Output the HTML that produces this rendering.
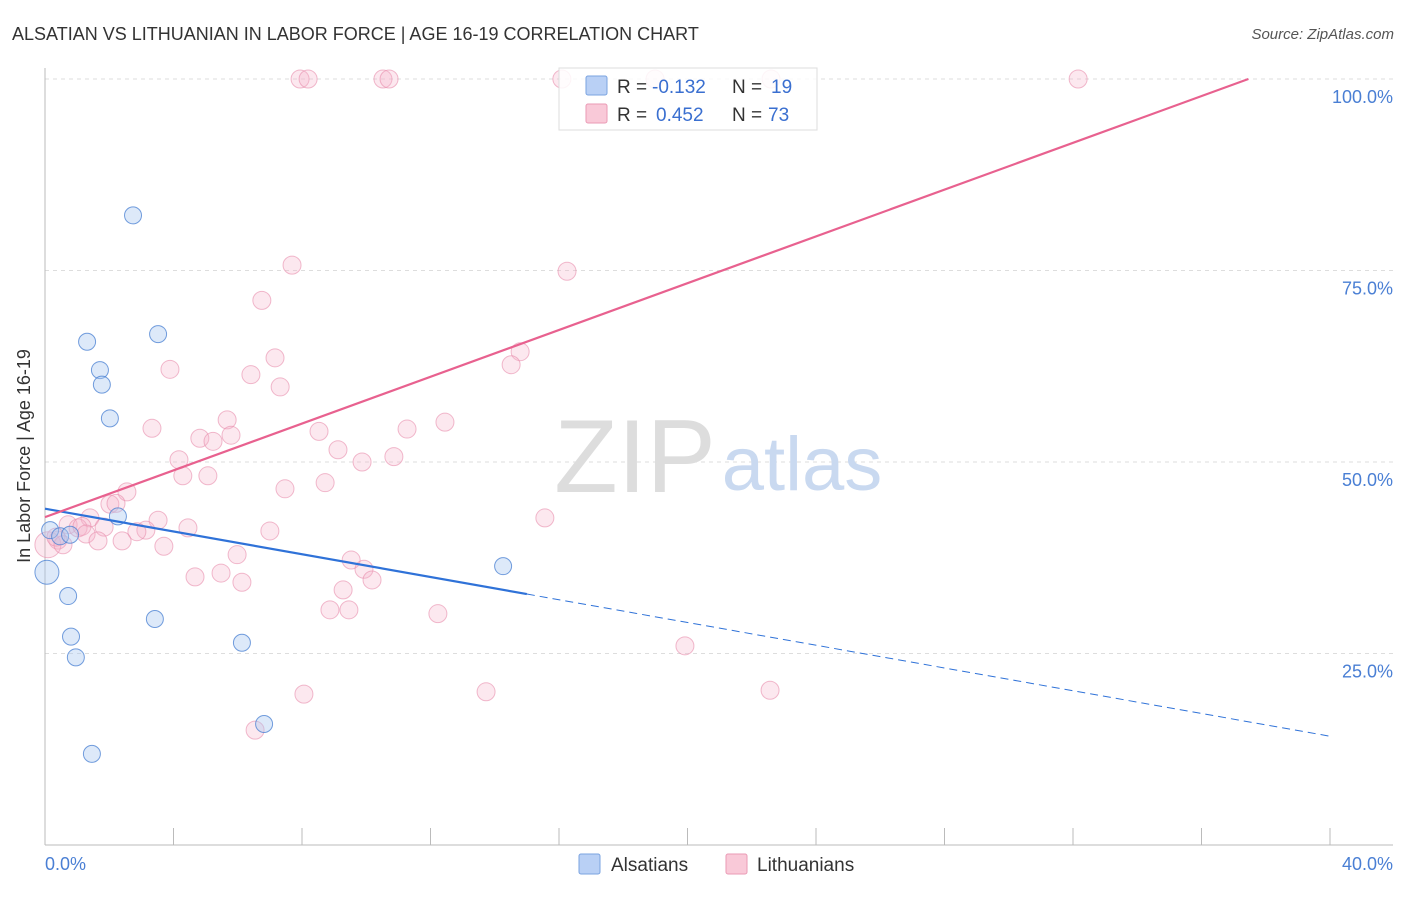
<!DOCTYPE html>
<html><head><meta charset="utf-8"><style>
body{margin:0;background:#fff;font-family:"Liberation Sans",sans-serif;}
svg text{font-family:"Liberation Sans",sans-serif;}
</style></head><body>
<svg id="c" width="1406" height="892">
<text x="12" y="40" font-size="18" fill="#333">ALSATIAN VS LITHUANIAN IN LABOR FORCE | AGE 16-19 CORRELATION CHART</text>
<text x="1394" y="39" font-size="15" fill="#555" font-style="italic" text-anchor="end">Source: ZipAtlas.com</text>
<g id="grid"></g>
<text x="635" y="492" font-size="104" fill="#ddd" font-family="Liberation Serif" text-anchor="middle">ZIP</text>
<text x="802" y="490" font-size="76" fill="#c9d9f0" text-anchor="middle">atlas</text>
<g id="axes"></g>
<g id="pts"></g>
<text x="30" y="456" font-size="18" fill="#333" text-anchor="middle" transform="rotate(-90 30 456)">In Labor Force | Age 16-19</text>
<g>
<rect x="559" y="68" width="258" height="62" fill="rgba(255,255,255,0.85)" stroke="#ddd"/>
<rect x="586" y="76" width="21" height="19" fill="#b9d0f5" stroke="#7aa3e0" rx="2"/>
<rect x="586" y="104" width="21" height="19" fill="#f9c9d8" stroke="#ea9ab5" rx="2"/>
<text x="617" y="93" font-size="19" fill="#333">R =</text>
<text x="652" y="93" font-size="19" fill="#3a6fd0">-0.132</text>
<text x="732" y="93" font-size="19" fill="#333">N =</text>
<text x="771" y="93" font-size="19" fill="#3a6fd0">19</text>
<text x="617" y="121" font-size="19" fill="#333">R =</text>
<text x="656" y="121" font-size="19" fill="#3a6fd0">0.452</text>
<text x="732" y="121" font-size="19" fill="#333">N =</text>
<text x="768" y="121" font-size="19" fill="#3a6fd0">73</text>
</g>
<g>
<rect x="579" y="854" width="21" height="20" fill="#b9d0f5" stroke="#7aa3e0" rx="2"/>
<text x="611" y="871" font-size="19" fill="#333">Alsatians</text>
<rect x="726" y="854" width="21" height="20" fill="#f9c9d8" stroke="#ea9ab5" rx="2"/>
<text x="757" y="871" font-size="19" fill="#333">Lithuanians</text>
</g>
</svg>
<script>
const xTicks=[0,40];
const yTicks=[25,50,75,100];
const alsX=[0.16,0.06,0.47,2.74,1.31,1.71,1.77,2.02,3.52,2.27,0.72,0.81,0.96,1.46,3.42,6.13,6.82,14.26,0.78];
const alsY=[41.1,35.6,40.3,82.2,65.7,62.0,60.1,55.7,66.7,42.9,32.5,27.2,24.5,11.9,29.5,26.4,15.8,36.4,40.5];
const litX=[7.94,8.19,10.52,10.71,16.09,18.99,22.6,32.16,7.69,16.25,6.75,7.16,3.89,6.41,7.32,14.79,14.51,5.67,3.33,5.79,4.82,5.23,8.53,11.27,12.45,9.12,10.86,9.87,4.17,4.29,5.07,8.72,7.47,2.55,2.02,2.21,15.56,1.4,3.52,0.72,1.03,1.15,1.84,4.45,3.14,2.86,7.0,1.28,0.4,1.65,2.4,0.09,3.7,5.98,9.53,9.93,5.48,4.67,10.18,6.13,9.28,8.87,9.46,12.23,19.92,8.06,13.73,22.57,6.54,0.34,0.56];
const litY=[100,100,100,100,100,100,100,100,75.7,74.9,71.1,63.6,62.1,61.4,59.8,64.4,62.7,55.5,54.4,53.5,53.1,52.7,54.0,54.3,55.2,51.6,50.7,50.0,50.3,48.2,48.2,47.3,46.5,46.1,44.5,44.6,42.7,42.7,42.4,41.8,41.4,41.6,41.5,41.4,41.1,40.9,41.0,40.6,39.8,39.7,39.7,39.2,39.0,37.9,37.2,36.0,35.5,35.0,34.6,34.3,33.3,30.7,30.7,30.2,26.0,19.7,20.0,20.2,15.0,40.2,39.2];
const alsLine=[43.9,14.2];
const litLine=[42.8,1.527];
const NS='http://www.w3.org/2000/svg';
const X=v=>45+v*32.125, Y=v=>845-v*7.66;
function mk(p,t,a){const e=document.createElementNS(NS,t);for(const k in a)e.setAttribute(k,a[k]);p.appendChild(e);return e;}
const grid=document.getElementById('grid'),axes=document.getElementById('axes'),pts=document.getElementById('pts');
yTicks.forEach(t=>{
 const l=mk(grid,'line',{x1:45,x2:1393,y1:Y(t),y2:Y(t),stroke:'#ddd','stroke-dasharray':'4,4'});
 
 
 const tx=mk(axes,'text',{x:1393,y:Y(t)+24,'font-size':18,fill:'#4a7fd4','text-anchor':'end'});
 tx.textContent=t.toFixed(1)+'%';
 
 
});
mk(axes,'line',{x1:45,x2:45,y1:68,y2:845,stroke:'#bbb'});
mk(axes,'line',{x1:45,x2:1393,y1:845,y2:845,stroke:'#bbb'});
for(let i=1;i<=10;i++){mk(axes,'line',{x1:X(i*4),x2:X(i*4),y1:828,y2:845,stroke:'#bbb'});}
xTicks.forEach((t,i)=>{
 const tx=mk(axes,'text',{x:i?1393:45,y:870,'font-size':18,fill:'#4a7fd4','text-anchor':i?'end':'start'});
 tx.textContent=t.toFixed(1)+'%';
 
 
});
litX.forEach((x,i)=>{
 const big=x<0.2;
 const c=mk(pts,'circle',{cx:X(x),cy:Y(litY[i]),r:big?13:9,fill:'rgba(246,180,202,0.3)',stroke:'rgba(232,140,172,0.6)','stroke-width':1});
 
 
});
alsX.forEach((x,i)=>{
 const big=x<0.1;
 const c=mk(pts,'circle',{cx:X(x),cy:Y(alsY[i]),r:big?12:8.5,fill:'rgba(170,200,240,0.4)',stroke:'rgba(70,125,210,0.75)','stroke-width':1});
 
 
});
const aY=x=>alsLine[0]+(alsLine[1]-alsLine[0])*x/40;
const b1=mk(pts,'line',{x1:X(0),y1:Y(aY(0)),x2:X(15),y2:Y(aY(15)),stroke:'#2f72d8','stroke-width':2.2});


const b2=mk(pts,'line',{x1:X(15),y1:Y(aY(15)),x2:X(40),y2:Y(aY(40)),stroke:'#2f72d8','stroke-width':1,'stroke-dasharray':'8,5'});


const xe=(100-litLine[0])/litLine[1];
const p1=mk(pts,'line',{x1:X(0),y1:Y(litLine[0]),x2:X(xe),y2:Y(100),stroke:'#e8618f','stroke-width':2.2});


</script>
</body></html>
